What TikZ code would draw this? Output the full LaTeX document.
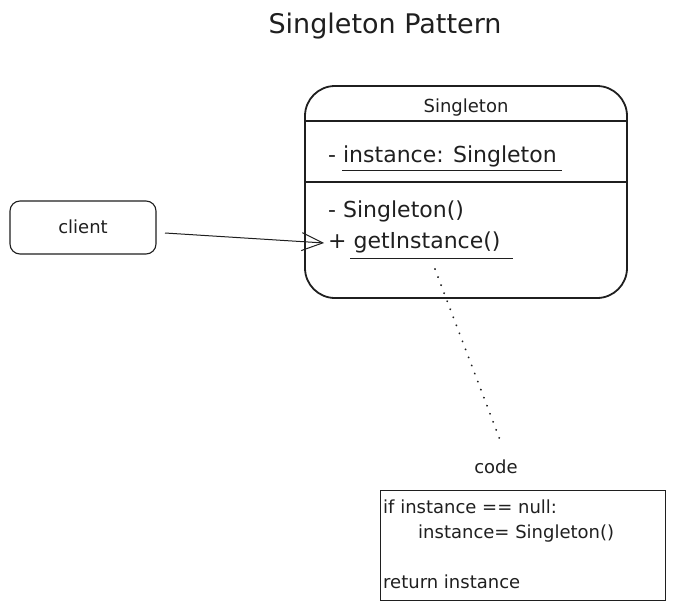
\documentclass[tikz,border=0pt]{standalone}
\usepackage{fontspec}
\setmainfont{DejaVu Sans}
\usetikzlibrary{arrows.meta}
\begin{document}
\begin{tikzpicture}[x=1pt,y=-1pt,
  ink/.style={draw=black!88},
  txt/.style={inner sep=0pt,text=black!88},
  member/.style={txt,anchor=base west,font=\fontsize{22}{26}\selectfont},
  codetxt/.style={txt,anchor=base west,font=\fontsize{18}{22}\selectfont},
  arr/.style={ink,line width=1pt,-{Straight Barb[length=21pt,width=18pt,line width=1pt]}},
  dotline/.style={ink,line width=2pt,line cap=round,dash pattern=on 0.1pt off 8.5pt}]
\useasboundingbox (0,0) rectangle (676,610);
% title
\node[txt,anchor=base,font=\fontsize{27}{32}\selectfont] (title) at (385,34) {Singleton Pattern};
% singleton class box
\node[ink,line width=1.8pt,rounded corners=30pt,minimum width=322pt,minimum height=212pt,inner sep=0pt] (singleton) at (466,192) {};
\node[txt,anchor=base,font=\fontsize{18}{22}\selectfont] (cname) at (466,112) {Singleton};
\draw[ink,line width=1.6pt] (singleton.west |- 0,121) coordinate (d1a) -- (singleton.east |- 0,121) coordinate (d1b);
\draw[ink,line width=1.2pt] (singleton.west |- 0,182) coordinate (d2a) -- (singleton.east |- 0,182) coordinate (d2b);
\node[member] (attr) at (328,162) {- instance: Singleton};
\draw[ink,line width=1pt] (342,170) coordinate (u1a) -- (562,170) coordinate (u1b);
\node[member] (ctor) at (328,217) {- Singleton()};
\node[member] (getinst) at (328,248) {+ getInstance()};
\draw[ink,line width=1pt] (350,258) coordinate (u2a) -- (513,258) coordinate (u2b);
% client
\node[ink,line width=1.1pt,rounded corners=10pt,minimum width=146pt,minimum height=53pt,inner sep=0pt] (client) at (83,227.5) {};
\node[txt,anchor=base,font=\fontsize{18}{22}\selectfont] (clientlbl) at (83,233) {client};
\coordinate (arrstart) at (165,233);
\coordinate (arrtip) at (324,243);
\draw[arr] (arrstart) -- (arrtip);
% code note
\node[txt,anchor=base,font=\fontsize{18}{22}\selectfont] (codelbl) at (496,473) {code};
\coordinate (dotstart) at (435,269);
\coordinate (dotend) at (500,440);
\draw[dotline] (dotstart) -- (dotend);
\node[ink,line width=1pt,minimum width=285pt,minimum height=110pt,inner sep=0pt] (codebox) at (522.5,545) {};
\node[codetxt] (c1) at (383,513) {if instance == null:};
\node[codetxt] (c2) at (418,538) {instance= Singleton()};
\node[codetxt] (c3) at (383,588) {return instance};
\end{tikzpicture}
\end{document}
